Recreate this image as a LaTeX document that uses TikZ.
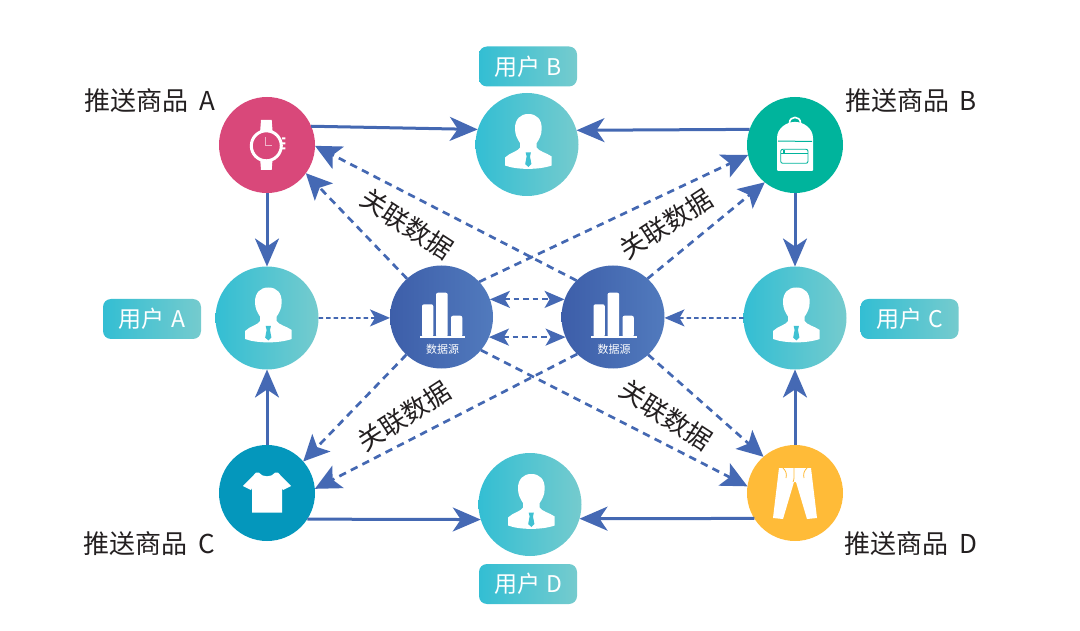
\documentclass[tikz,border=0pt]{standalone}
\usepackage{fontspec}
\setmainfont{Noto Sans CJK SC}
\usetikzlibrary{arrows.meta}
\definecolor{lineblue}{HTML}{4468B2}
\definecolor{tipblue}{HTML}{4569B4}
\definecolor{txt}{HTML}{231F20}
\definecolor{tealL}{HTML}{33BED3}
\definecolor{tealR}{HTML}{75CBCE}
\definecolor{dsL}{HTML}{3D5EA9}
\definecolor{dsR}{HTML}{517ABD}
\definecolor{prodA}{HTML}{D9487A}
\definecolor{prodB}{HTML}{00B49C}
\definecolor{prodC}{HTML}{0497BC}
\definecolor{prodD}{HTML}{FFBB38}
\tikzset{
  disc/.style={circle,draw=none,inner sep=0pt,outer sep=0pt,minimum size=#1},
  prod/.style={disc=96pt,fill=#1},
  userdisc/.style={disc=103pt,left color=tealL,right color=tealR},
  dsdisc/.style={disc=103pt,left color=dsL,right color=dsR},
  pill/.style={rectangle,rounded corners=8pt,minimum width=98pt,minimum height=40pt,inner sep=0pt,left color=tealL,right color=tealR,text=white,font=\fontsize{23}{27}\selectfont},
  prodlabel/.style={text=txt,font=\fontsize{26}{31}\selectfont,inner sep=0pt},
  rellabel/.style={text=txt,font=\fontsize{26}{31}\selectfont,inner sep=0pt},
  solidarrow/.style={draw=lineblue,line width=3pt,-{Stealth[length=28pt,width=24pt,inset=8pt,color=tipblue]}},
  dasharrow/.style={draw=lineblue,line width=2.7pt,dash pattern=on 7.5pt off 5.5pt,-{Stealth[length=26pt,width=25pt,inset=6pt,color=tipblue]}},
  thinarrow/.style={draw=lineblue,line width=1.8pt,dash pattern=on 4.5pt off 3pt,-{Stealth[length=20pt,width=17pt,inset=5pt,color=tipblue]}},
  bothdash/.style={draw=lineblue,line width=2.1pt,dash pattern=on 5.5pt off 4pt,{Stealth[length=20pt,width=17pt,inset=5pt,color=tipblue]}-{Stealth[length=20pt,width=17pt,inset=5pt,color=tipblue]}},
  person/.pic={
    \fill[white] (1.3,-30.5) .. controls (10,-30.5) and (14.7,-25) .. (14.7,-16)
      .. controls (14.7,-9) and (12,-5) .. (9.7,-1.5) -- (9.7,3)
      .. controls (12,7) and (19,8) .. (24.7,12) -- (24.7,21)
      .. controls (12,25.5) and (-10,25.5) .. (-22,21) -- (-22,13)
      .. controls (-17,8) and (-9,7) .. (-7,3) -- (-7,-1.5)
      .. controls (-10,-6) and (-12,-10) .. (-12,-16)
      .. controls (-12,-25) and (-7,-30.5) .. (1.3,-30.5) -- cycle;
    \fill[tealL!80!tealR] (-1.3,8) -- (3.9,8) -- (3,12) -- (4.4,19.5) -- (1.3,22.5) -- (-1.8,19.5) -- (-0.4,12) -- cycle;
  },
  chart/.pic={
    \fill[white,rounded corners=2pt] (-19.5,20) -- (-19.5,-12.7) -- (-8.2,-12.7) -- (-8.2,20) -- cycle;
    \fill[white,rounded corners=2pt] (-5.5,20) -- (-5.5,-24.3) -- (6.2,-24.3) -- (6.2,20) -- cycle;
    \fill[white,rounded corners=2pt] (9.5,20) -- (9.5,-1.3) -- (20.8,-1.3) -- (20.8,20) -- cycle;
    \fill[white] (-22,19) rectangle (23.5,21.3);
    \node[text=white,inner sep=0pt,font=\fontsize{11}{13}\selectfont] (-cap) at (1,32) {数据源};
  },
  watch/.pic={
    \fill[white] (-6,-25) -- (4.7,-25) -- (5.7,-12) -- (-7,-12) -- cycle;
    \fill[white] (-7,12) -- (5.7,12) -- (4.7,25) -- (-6,25) -- cycle;
    \fill[white] (15,-7.7) rectangle (18.3,-5.7) (15,-2.7) rectangle (18.3,-0.7) (15,2.3) rectangle (18.3,4.3);
    \draw[white,line width=3pt,fill=prodA] (-0.7,0.8) circle (15);
    \draw[white!60!prodA,line width=0.8pt] (-1.3,-7.7) -- (-1.3,0) -- (4.7,0);
  },
  bag/.pic={
    \draw[white,line width=1.6pt] (-5.5,-22) .. controls (-5.5,-29.5) and (5.5,-29.5) .. (5.5,-22);
    \fill[white,rounded corners=1pt] (-18,26) -- (-18,-6) .. controls (-18,-17) and (-8,-23) .. (0,-23) .. controls (8,-23) and (18,-17) .. (18,-6) -- (18,26) -- cycle;
    \draw[prodB,line width=1pt] (-17,-4) -- (17,-3.5);
    \draw[prodB,line width=0.9pt,rounded corners=2pt] (-14.3,4.3) rectangle (13,18.3);
    \draw[prodB,line width=0.7pt] (-14,8) -- (13,8);
    \fill[prodB] (-12,5) rectangle (-10.5,9.5);
  },
  tee/.pic={
    \fill[white] (-8,-20.3) .. controls (-5,-15.5) and (5,-15.5) .. (8,-20.3) -- (11,-20.3) -- (24,-7) -- (16,-3) -- (15,-5) -- (15,19.7) -- (-15,19.7) -- (-15,-5) -- (-16,-3) -- (-24,-7) -- (-11,-20.3) -- cycle;
  },
  pants/.pic={
    \fill[white] (-16,-25) -- (16,-25) -- (22,25) -- (12,26) -- (1,-11) -- (-1,-11) -- (-12,26) -- (-22,25) -- cycle;
    \draw[prodD,line width=0.8pt] (-1,-25) .. controls (-1,-17) and (-0.5,-14) .. (-2,-11);
    \draw[prodD,line width=0.8pt] (-12,-25) .. controls (-9,-22) and (-8,-19) .. (-9,-15);
    \draw[prodD,line width=0.8pt] (12,-25) .. controls (9,-22) and (8,-19) .. (9,-15);
  },
}
\begin{document}
\begin{tikzpicture}[x=1pt,y=-1pt]
\useasboundingbox (0,0) rectangle (1080,631);
% discs
\node[prod=prodA] (pa) at (267,145) {};
\node[prod=prodB] (pb) at (795,145) {};
\node[prod=prodC] (pc) at (267,493) {};
\node[prod=prodD] (pd) at (795,493) {};
\node[userdisc] (ub) at (527,144.5) {};
\node[userdisc] (ua) at (267,318) {};
\node[userdisc] (uc) at (795,318) {};
\node[userdisc] (ud) at (530,504.5) {};
\node[dsdisc] (dl) at (441.5,317) {};
\node[dsdisc] (dr) at (613,317) {};
% icons
\pic at (pa) {watch};
\pic at (pb) {bag};
\pic at (pc) {tee};
\pic at (pd) {pants};
\pic at (ub) {person};
\pic at (ua) {person};
\pic at (uc) {person};
\pic at (ud) {person};
\pic (cl) at (dl) {chart};
\pic (cr) at (dr) {chart};
% pills
\node[pill] (lb) at (528,66.5) {用户 \hspace{1pt}B};
\node[pill] (la) at (152,319) {用户 \hspace{1pt}A};
\node[pill] (lc) at (909.5,319) {用户 \hspace{1pt}C};
\node[pill] (ld) at (528,584) {用户 \hspace{1pt}D};
% product labels
\node[prodlabel] (ta) at (149.5,101) {推送商品 \hspace{5pt}A};
\node[prodlabel] (tb) at (911,101) {推送商品 \hspace{5pt}B};
\node[prodlabel] (tc) at (149.5,544) {推送商品 \hspace{5pt}C};
\node[prodlabel] (td) at (911,544) {推送商品 \hspace{5pt}D};
% relation labels
\node[rellabel,rotate=-33] (r1) at (407,224) {关联数据};
\node[rellabel,rotate=33] (r2) at (666,224) {关联数据};
\node[rellabel,rotate=33] (r3) at (404,416) {关联数据};
\node[rellabel,rotate=-33] (r4) at (666,415) {关联数据};
% solid connectors
\draw[solidarrow] (pa.23) -- (ub.163);
\draw[solidarrow] (pb.161) -- (ub.16);
\draw[solidarrow] (pa.270) -- (ua.90);
\draw[solidarrow] (pb.270) -- (uc.90);
\draw[solidarrow] (pc.90) -- (ua.270);
\draw[solidarrow] (pd.90) -- (uc.270);
\draw[solidarrow] (pc.-33) -- (ud.197);
\draw[solidarrow] (pd.212) -- (ud.-16);
% dashed connectors
\draw[thinarrow] (ua.0) -- (dl.181);
\draw[thinarrow] (uc.180) -- (dr.-1);
\draw[bothdash] (dl.20.4) -- (dr.160.6);
\draw[bothdash] (dl.-23) -- (dr.203);
\draw[dasharrow] (dl.132.4) -- (pa.-36.4);
\draw[dasharrow] (dr.135) -- (pa.-1);
\draw[dasharrow] (dl.43.8) -- (pb.192.5);
\draw[dasharrow] (dr.48) -- (pb.231.7);
\draw[dasharrow] (dl.-40.7) -- (pd.172.7);
\draw[dasharrow] (dr.-47) -- (pd.131.6);
\draw[dasharrow] (dl.227.6) -- (pc.41.5);
\draw[dasharrow] (dr.226.7) -- (pc.5);
\end{tikzpicture}
\end{document}
